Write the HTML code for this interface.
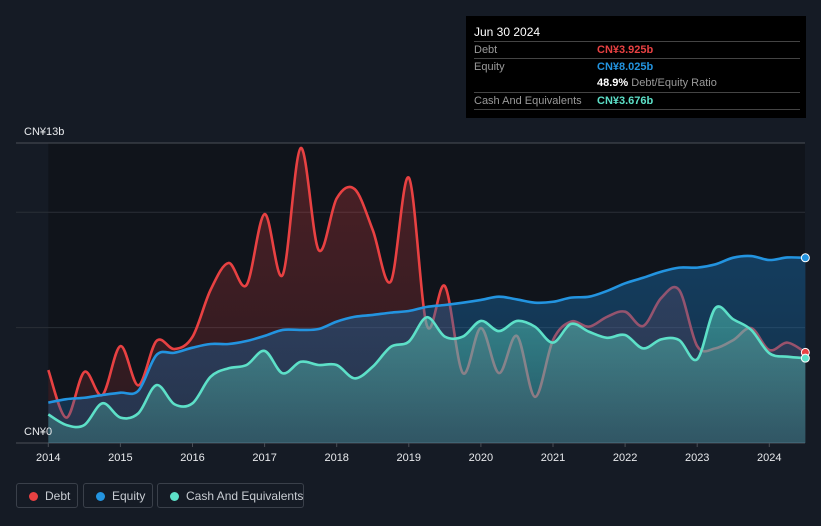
<!DOCTYPE html>
<html><head><meta charset="utf-8"><style>
body{margin:0;background:#151b25;font-family:"Liberation Sans",sans-serif;}
#wrap{position:relative;width:821px;height:526px;overflow:hidden;background:#151b25;}
svg{position:absolute;left:0;top:0}
.tt{position:absolute;left:466px;top:16px;width:340px;height:102px;background:#000;color:#fff;font-size:11px}
.tt .row{position:absolute;left:8px;width:326px;border-top:1px solid #444;height:16px}
.lab{position:absolute;left:0;top:2px;color:#9a9a9a;white-space:nowrap}
.val{position:absolute;left:123px;top:2px;font-weight:bold}
.leg{position:absolute;top:483px;height:25px;border:1px solid #3a404a;border-radius:3px;color:#c8ccd2;font-size:12px;line-height:25px;box-sizing:border-box;white-space:nowrap}
.dot{position:absolute;left:12px;top:8px;width:9px;height:9px;border-radius:50%}
</style></head><body>
<div id="wrap">
<svg id="chart" width="821" height="526"></svg>
<div class="tt">
<div style="position:absolute;left:8px;top:9px;font-size:12px">Jun 30 2024</div>
<div class="row" style="top:25px"><span class="lab">Debt</span><span class="val" style="color:#e84142">CN¥3.925b</span></div>
<div class="row" style="top:42px"><span class="lab">Equity</span><span class="val" style="color:#2394e0">CN¥8.025b</span></div>
<div style="position:absolute;left:131px;top:61px;font-size:11px"><b>48.9%</b> <span style="color:#9a9a9a">Debt/Equity Ratio</span></div>
<div class="row" style="top:76px"><span class="lab">Cash And Equivalents</span><span class="val" style="color:#5de0c8">CN¥3.676b</span></div>
<div class="row" style="top:93px;height:0"></div>
</div>
<div class="leg" style="left:16px;width:62px"><span class="dot" style="background:#e84142"></span><span style="position:absolute;left:28px">Debt</span></div>
<div class="leg" style="left:83px;width:70px"><span class="dot" style="background:#2394e0"></span><span style="position:absolute;left:28px">Equity</span></div>
<div class="leg" style="left:157px;width:147px"><span class="dot" style="background:#5de0c8"></span><span style="position:absolute;left:28px">Cash And Equivalents</span></div>
</div>
<script>
const startYear = 2014;
const stepYears = 0.25;
const debt = [3.16,1.1,3.08,2.08,4.2,2.5,4.42,4.07,4.6,6.63,7.8,6.85,9.92,7.28,12.78,8.36,10.6,11.0,9.23,7.0,11.5,5.1,6.8,3.03,4.98,3.03,4.64,2.0,4.46,5.26,5.04,5.47,5.69,5.07,6.28,6.63,4.2,4.1,4.46,4.98,4.03,4.35,3.925];
const equity = [1.75,1.9,1.96,2.08,2.18,2.27,3.81,3.91,4.13,4.29,4.29,4.42,4.64,4.9,4.9,4.94,5.26,5.47,5.55,5.65,5.72,5.9,5.98,6.08,6.2,6.34,6.22,6.08,6.12,6.3,6.34,6.59,6.92,7.16,7.42,7.6,7.6,7.74,8.03,8.1,7.93,8.04,8.025];
const cash = [1.24,0.78,0.78,1.72,1.1,1.29,2.51,1.68,1.72,2.87,3.24,3.38,3.99,3.02,3.52,3.38,3.38,2.8,3.31,4.17,4.39,5.45,4.61,4.61,5.29,4.85,5.29,5.04,4.35,5.16,4.82,4.56,4.68,4.1,4.49,4.46,3.63,5.84,5.36,4.9,3.89,3.74,3.676];
const yearTicks = [2014,2015,2016,2017,2018,2019,2020,2021,2022,2023,2024];
const gridValues = [0,5,10,13];

const NS='http://www.w3.org/2000/svg';
const svg=document.getElementById('chart');
const X=t=>48.3+(t-2014)*72.1;
const Y=v=>443-v*300/13;
function el(tag,attrs,parent){const e=document.createElementNS(NS,tag);for(const k in attrs)e.setAttribute(k,attrs[k]);(parent||svg).appendChild(e);return e;}
const defs=el('defs',{});
const grads=[['gd','#e84142',0.28,0.12],['ge','#1a6fb0',0.45,0.3],['gc','#5de0c8',0.45,0.2]];
grads.forEach(([id,c,a,b])=>{const g=el('linearGradient',{id,x1:0,y1:0,x2:0,y2:1},defs);el('stop',{offset:0,'stop-color':c,'stop-opacity':a},g);el('stop',{offset:1,'stop-color':c,'stop-opacity':b},g);});
const bg=el('rect',{x:X(2014),y:143,width:805-X(2014),height:300,fill:'#10141b'});


gridValues.forEach(v=>{const l=el('line',{x1:16,x2:805,y1:Y(v),y2:Y(v),stroke:v==13||v==0?'#4a4f57':'#2a2f37','stroke-width':1});

});
function pts(arr){return arr.map((v,i)=>[X(startYear+i*stepYears),Y(v)]);}
function smooth(p){let d='M'+p[0][0]+','+p[0][1];for(let i=0;i<p.length-1;i++){const p0=p[i-1]||p[i],p1=p[i],p2=p[i+1],p3=p[i+2]||p2;const c1=[p1[0]+(p2[0]-p0[0])/6,p1[1]+(p2[1]-p0[1])/6],c2=[p2[0]-(p3[0]-p1[0])/6,p2[1]-(p3[1]-p1[1])/6];d+=`C${c1[0]},${c1[1]} ${c2[0]},${c2[1]} ${p2[0]},${p2[1]}`;}return d;}
function series(arr,grad,color,name){const p=pts(arr);const d=smooth(p);
const a=el('path',{d:d+`L${p[p.length-1][0]},443L${p[0][0]},443Z`,fill:`url(#${grad})`});


const l=el('path',{d,fill:'none',stroke:color,'stroke-width':2.6});


return p;}
const pd=series(debt,'gd','#e84142','debt');
const pe=series(equity,'ge','#2394e0','equity');
const pc=series(cash,'gc','#5de0c8','cash');
[[pd,'#e84142','debt'],[pe,'#2394e0','equity'],[pc,'#5de0c8','cash']].forEach(([p,c,n])=>{const q=p[p.length-1];const m=el('circle',{cx:q[0],cy:q[1],r:4,fill:c,stroke:'#fff','stroke-width':1});

});
yearTicks.forEach(y=>{const tk=el('line',{x1:X(y),x2:X(y),y1:443,y2:447,stroke:'#4a4f57'});


const t=el('text',{x:X(y),y:461,fill:'#e8eaed','font-size':11,'text-anchor':'middle','font-family':'Liberation Sans, sans-serif'});t.textContent=y;

});
const t1=el('text',{x:24,y:135,fill:'#e8eaed','font-size':11,'font-family':'Liberation Sans, sans-serif'});t1.textContent='CN¥13b';


const t0=el('text',{x:24,y:435,fill:'#e8eaed','font-size':11,'font-family':'Liberation Sans, sans-serif'});t0.textContent='CN¥0';


</script>
</body></html>
